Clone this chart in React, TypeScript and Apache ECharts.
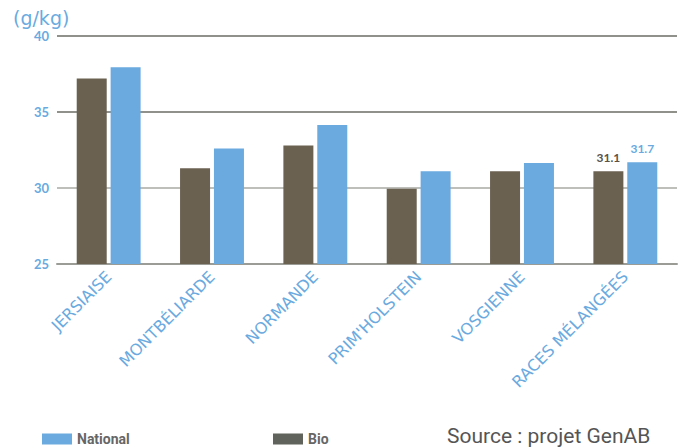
import React, { useEffect, useRef } from "react";
import * as echarts from "echarts";

const categories = ["JERSIAISE", "MONTBÉLIARDE", "NORMANDE", "PRIM'HOLSTEIN", "VOSGIENNE", "RACES MÉLANGÉES"];
const bioValues = [37.2, 31.3, 32.8, 29.95, 31.1, 31.1];
const nationalValues = [37.95, 32.6, 34.15, 31.1, 31.65, 31.7];
const labelledIndex = 5;
const unitLabel = "(g/kg)";
const sourceText = "Source : projet GenAB";

const BLUE = "#6aaadf";
const BROWN = "#6b6151";

export default function App() {
  const ref = useRef<HTMLDivElement>(null);
  useEffect(() => {
    document.body.style.margin = "0";
    if (!ref.current) return;
    const chart = echarts.init(ref.current, null, { renderer: "svg" });
    const mk = (vals: number[], color: string) =>
      vals.map((v, i) =>
        i === labelledIndex
          ? {
              value: v,
              label: {
                show: true,
                position: "top",
                distance: 8,
                color,
                fontSize: 12,
                fontWeight: "bold",
                fontFamily: "Lato",
                formatter: (p: any) => p.value.toFixed(1),
              },
            }
          : v
      );
    const legendText = { color: "#666", fontSize: 14, fontWeight: "bold", fontFamily: "Roboto" };
    chart.setOption({
      animation: false,
      title: {
        text: unitLabel,
        left: 8,
        top: 3,
        textStyle: { color: BLUE, fontSize: 19, fontWeight: "normal", fontFamily: "DejaVu Sans" },
      },
      grid: { left: 57, right: 6, top: 36, bottom: 184, containLabel: false },
      legend: [
        {
          data: [{ name: "National", itemStyle: { color: BLUE } }],
          left: 42,
          top: 432,
          padding: 0,
          itemWidth: 30,
          itemHeight: 11,
          itemGap: 12,
          icon: "rect",
          textStyle: legendText,
        },
        {
          data: [{ name: "Bio", itemStyle: { color: "#5f635b" } }],
          left: 273,
          top: 432,
          padding: 0,
          itemWidth: 30,
          itemHeight: 11,
          icon: "rect",
          textStyle: legendText,
        },
      ],
      xAxis: {
        type: "category",
        data: categories,
        axisTick: { show: false },
        axisLine: { show: true, lineStyle: { color: "#9c9c97", width: 2 } },
        axisLabel: {
          rotate: 45,
          color: BLUE,
          fontSize: 16,
          fontFamily: "DejaVu Sans",
          margin: 10,
          interval: 0,
        },
      },
      yAxis: {
        type: "value",
        min: 25,
        max: 40,
        interval: 5,
        axisLine: { show: false },
        axisTick: { show: false },
        axisLabel: { color: BLUE, fontSize: 13, fontWeight: "bold", fontFamily: "Lato", margin: 8 },
        splitLine: {
          lineStyle: { color: ["#9c9c97", "#a9a9a5", "#6d6d66", "#6d6d66"], width: 1.5 },
        },
      },
      graphic: [
        {
          type: "text",
          left: 447,
          top: 425,
          style: { text: sourceText, fill: "#555", fontSize: 21, fontFamily: "Roboto" },
        },
      ],
      series: [
        {
          name: "Bio",
          type: "bar",
          data: mk(bioValues, "#5a5248"),
          barWidth: 30,
          barGap: "13%",
          itemStyle: { color: BROWN },
        },
        {
          name: "National",
          type: "bar",
          data: mk(nationalValues, BLUE),
          barWidth: 30,
          itemStyle: { color: BLUE },
        },
      ],
    });
    return () => chart.dispose();
  }, []);
  return <div ref={ref} style={{ width: 683, height: 448 }} />;
}
